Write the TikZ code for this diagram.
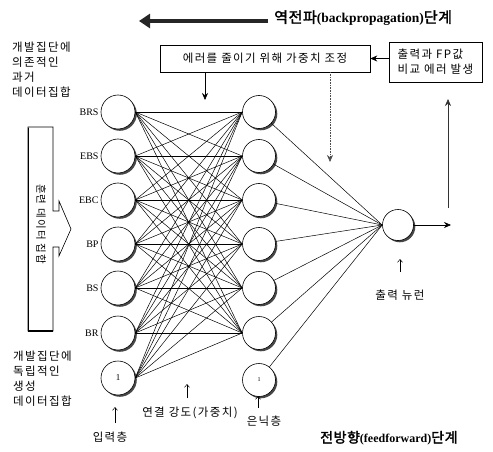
\documentclass[tikz,border=0pt]{standalone}
\usepackage{fontspec}
\setmainfont{Liberation Serif}
\newfontfamily\kr[LetterSpace=12]{Noto Sans CJK KR}
\newfontfamily\krb[FakeBold=2,LetterSpace=4]{Noto Sans CJK KR}
\usetikzlibrary{arrows.meta,shadows}
\begin{document}
\begin{tikzpicture}[x=1pt,y=-1pt,
  neuron/.style={circle,draw,line width=0.6pt,fill=white,inner sep=0pt,minimum size=#1,
    drop shadow={shadow xshift=1.8pt,shadow yshift=-1.8pt,fill=black!80,opacity=0.9}},
  neuron/.default=33pt,
  conn/.style={line width=0.5pt},
  lab/.style={font=\fontsize{10}{12}\selectfont,inner sep=1pt},
  krtext/.style={font=\kr\fontsize{11.5}{15}\selectfont,align=left,inner sep=0pt},
  krlab/.style={font=\kr\fontsize{11.5}{13}\selectfont,inner sep=0pt},
  box/.style={draw,line width=0.6pt,fill=white,font=\kr\fontsize{11.5}{15}\selectfont,inner sep=3pt},
  arr/.style={-{Stealth[length=7pt,width=6pt]},line width=0.6pt},
  uparr/.style={-{Straight Barb[length=3pt,width=5pt]},line width=0.5pt},
  title/.style={inner sep=0pt,anchor=west}]
\useasboundingbox (0,0) rectangle (493,452);

% input layer
\foreach \k/\y in {1/112,2/156,3/200,4/244,5/288,6/333,7/378}{
  \node[neuron=34pt] (i\k) at (118,\y) {};
}
\node[font=\fontsize{9}{10}\selectfont] (one1) at (i7) {1};
% hidden layer
\foreach \k/\y in {1/112,2/156,3/200,4/244,5/288,6/333,7/380}{
  \node[neuron] (h\k) at (259,\y) {};
}
\node[font=\fontsize{6}{7}\selectfont] (one2) at (h7) {1};
% output
\node[neuron=31pt] (o) at (398,225) {};

% connections
\foreach \a in {1,...,7}{
  \foreach \b in {1,...,6}{
    \draw[conn] (i\a.east) -- (h\b.west);
  }
}
\foreach \b in {1,...,7}{
  \draw[conn] (h\b) -- (o.west);
}

% input labels
\node[lab,anchor=east] (l1) at ([xshift=-1pt]i1.west) {BRS};
\node[lab,anchor=east] (l2) at ([xshift=-1pt]i2.west) {EBS};
\node[lab,anchor=east] (l3) at ([xshift=-1pt]i3.west) {EBC};
\node[lab,anchor=east] (l4) at ([xshift=-1pt]i4.west) {BP};
\node[lab,anchor=east] (l5) at ([xshift=-1pt]i5.west) {BS};
\node[lab,anchor=east] (l6) at ([xshift=-1pt]i6.west) {BR};

% left texts
\node[krtext,anchor=north west] (past) at (12,42) {개발집단에\\의존적인\\과거\\데이터집합};
\node[krtext,anchor=north west] (indep) at (13,351) {개발집단에\\독립적인\\생성\\데이터집합};

% training set arrow box
\draw[line width=0.6pt,fill=white] (28,127) -- (53,127) -- (53,211) -- (59,211) -- (59,201)
  -- (71,229) -- (59,256) -- (59,247) -- (53,247) -- (53,331) -- (28,331) -- cycle;
\draw[line width=1.2pt] (28.5,128) -- (28.5,331) -- (53,331);
\node[font=\kr\fontsize{10.5}{11}\selectfont,rotate=-90] (train) at (41,224) {훈련 데이터 집합};

% top: backpropagation
\coordinate (bpS) at (268,21);
\coordinate (bpE) at (139,21);
\draw[-{Triangle[length=11pt,width=14pt]},line width=4.5pt,black!85] (bpS) -- (bpE);
\node[title] (bptitle) at (274,18) {{\krb\fontsize{15}{16}\selectfont 역전파}{\bfseries\fontsize{13.5}{14}\selectfont(backpropagation)}{\krb\fontsize{15}{16}\selectfont 단계}};

% boxes
\node[box,minimum width=210pt,minimum height=27pt] (adj) at (265,58.5) {에러를 줄이기 위해 가중치 조정};
\node[box,minimum width=93pt,minimum height=40pt,align=left,inner sep=2pt] (cmp) at (435.5,62) {출력과 FP값\\비교 에러 발생};
\draw[arr] (cmp.west |- adj.east) -- (adj.east);
\coordinate (d1) at (205,100);
\draw[arr] (adj.south -| d1) -- (d1);
\coordinate (d2) at (330,162);
\draw[arr,black!70,densely dotted] (adj.south -| d2) -- (d2);

% output arrows
\coordinate (oout) at (451,225);
\draw[arr] (o.east) -- (oout);
\coordinate (upS) at (448,208);
\coordinate (upE) at (448,99);
\draw[arr,black!80] (upS) -- (upE);

% bottom labels
\coordinate (a1s) at (115,423); \coordinate (a1e) at (115,407);
\draw[uparr] (a1s) -- (a1e);
\node[krlab] (inlab) at (110,437) {입력층};
\coordinate (a2s) at (187,398); \coordinate (a2e) at (187,384);
\draw[uparr] (a2s) -- (a2e);
\node[krlab] (wlab) at (190,413) {연결 강도(가중치)};
\coordinate (a3s) at (258,408); \coordinate (a3e) at (258,396);
\draw[uparr] (a3s) -- (a3e);
\node[krlab] (hlab) at (264,421) {은닉층};
\coordinate (a4s) at (400,272); \coordinate (a4e) at (400,259);
\draw[uparr] (a4s) -- (a4e);
\node[krlab] (olab) at (400,295) {출력 뉴런};

% bottom title
\node[title] (fftitle) at (320,438) {{\krb\fontsize{14}{15}\selectfont 전방향}{\bfseries\fontsize{12}{13}\selectfont(feedforward)}{\krb\fontsize{14}{15}\selectfont 단계}};
\end{tikzpicture}
\end{document}
